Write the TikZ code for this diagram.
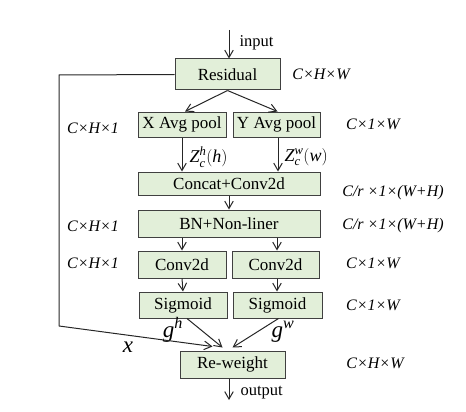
\documentclass[tikz,border=0pt]{standalone}
\usepackage{amsmath}
\usepackage{fontspec}
\setmainfont{Liberation Serif}
\usetikzlibrary{arrows.meta,positioning,calc}
\definecolor{BoxFill}{RGB}{226,239,217}
\definecolor{BoxLine}{RGB}{64,64,64}

\tikzset{
  blk/.style={draw=BoxLine, fill=BoxFill, line width=1pt, inner sep=0pt,
    font=\fontsize{17}{18}\selectfont},
  dimlbl/.style={font=\fontsize{16}{18}\selectfont\itshape},
  flow/.style={-{Straight Barb[length=2.6mm,width=3mm]}, line width=1pt, black!85},
}

\begin{document}
\begin{tikzpicture}[x=1pt,y=-1pt]
      \useasboundingbox (0,0) rectangle (466,412);

      % main blocks
      \node[blk, minimum width=105pt, minimum height=31pt] (res) at (227.5,74.5) {Residual};
      \node[blk, minimum width=88pt, minimum height=25pt] (xp) at (182,124.5) {X Avg pool};
      \node[blk, minimum width=87pt, minimum height=25pt] (yp) at (276.5,124.5) {Y Avg pool};
      \node[blk, minimum width=182pt, minimum height=23pt] (cc) at (229,183.5) {Concat+Conv2d};
      \node[blk, minimum width=182pt, minimum height=27pt] (bn) at (229,223.5) {BN+Non-liner};
      \node[blk, minimum width=88pt, minimum height=27pt] (cvl) at (182,264.5) {Conv2d};
      \node[blk, minimum width=87pt, minimum height=27pt] (cvr) at (275.5,264.5) {Conv2d};
      \node[blk, minimum width=88pt, minimum height=26pt] (sgl) at (183,305) {Sigmoid};
      \node[blk, minimum width=89pt, minimum height=26pt] (sgr) at (277.5,305) {Sigmoid};
      \node[blk, minimum width=105pt, minimum height=27pt] (rw) at (232.5,364.5) {Re-weight};

      % input / output
      \coordinate (in) at (229,30);
      \coordinate (out) at (229,400);
      \node[font=\fontsize{16.5}{18}\selectfont, anchor=west] (inlbl) at (236,43) {input};
      \node[font=\fontsize{16.5}{18}\selectfont, anchor=west] (outlbl) at (237,393) {output};
      \draw[flow] (in) -- (in |- res.north);
      \draw[flow] (rw.south -| out) -- (out);

      % dimension labels
      \node[dimlbl] (d1) at (321,74) {C×H×W};
      \node[dimlbl] (d2) at (93,128) {C×H×1};
      \node[dimlbl] (d3) at (373,124) {C×1×W};
      \node[dimlbl] (d4) at (393,193) {C/r ×1×(W+H)};
      \node[dimlbl] (d5) at (93,226) {C×H×1};
      \node[dimlbl] (d6) at (393,226) {C/r ×1×(W+H)};
      \node[dimlbl] (d7) at (93,263) {C×H×1};
      \node[dimlbl] (d8) at (373,263) {C×1×W};
      \node[dimlbl] (d9) at (373,305) {C×1×W};
      \node[dimlbl] (d10) at (375,363) {C×H×W};

      % connectors
      \draw[flow] (res.south) -- ([xshift=3pt]xp.north);
      \draw[flow] (res.south) -- ([xshift=1pt]yp.north);
      \draw[flow] (xp.south) -- (xp.south |- cc.north);
      \draw[flow] ([xshift=1.5pt]yp.south) -- ([xshift=1.5pt]yp.south |- cc.north);
      \node[font=\fontsize{18}{18}\selectfont, anchor=west] (zh) at (186,157) {$\textit{Z}_{\textit{c}}^{\textit{h}}(\textit{h})$};
      \node[font=\fontsize{18}{18}\selectfont, anchor=west] (zw) at (281,157) {$\textit{Z}_{\textit{c}}^{\textit{w}}(\textit{w})$};
      \draw[flow] (cc.south) -- (bn.north);
      \draw[flow] (cvl.north |- bn.south) -- (cvl.north);
      \draw[flow] ([xshift=1.5pt]cvr.north |- bn.south) -- ([xshift=1.5pt]cvr.north);
      \draw[flow] (cvl.south) -- (sgl.north);
      \draw[flow] ([xshift=1.5pt]cvr.south) -- ([xshift=1.5pt]cvr.south |- sgr.north);
      \draw[flow] ([xshift=4pt]sgl.south) -- ($(rw.north)+(-10,-3)$);
      \draw[flow] ([xshift=1pt]sgr.south) -- ($(rw.north)+(0,-3)$);
      \node[font=\fontsize{23}{24}\selectfont\itshape] (gh) at (173,330) {g\textsuperscript{h}};
      \node[font=\fontsize{23}{24}\selectfont\itshape] (gw) at (283,332) {g\textsuperscript{w}};

      % skip path
      \coordinate (c1) at (59,75);
      \coordinate (c2) at (59,326);
      \draw[line width=1pt, black!85] (res.west) -- (c1) -- (c2);
      \draw[flow] (c2) -- ($(rw.north)+(-20,-4)$);
      \node[font=\fontsize{23}{24}\selectfont\itshape] (xl) at (128,347) {x};
    \end{tikzpicture}
\end{document}
